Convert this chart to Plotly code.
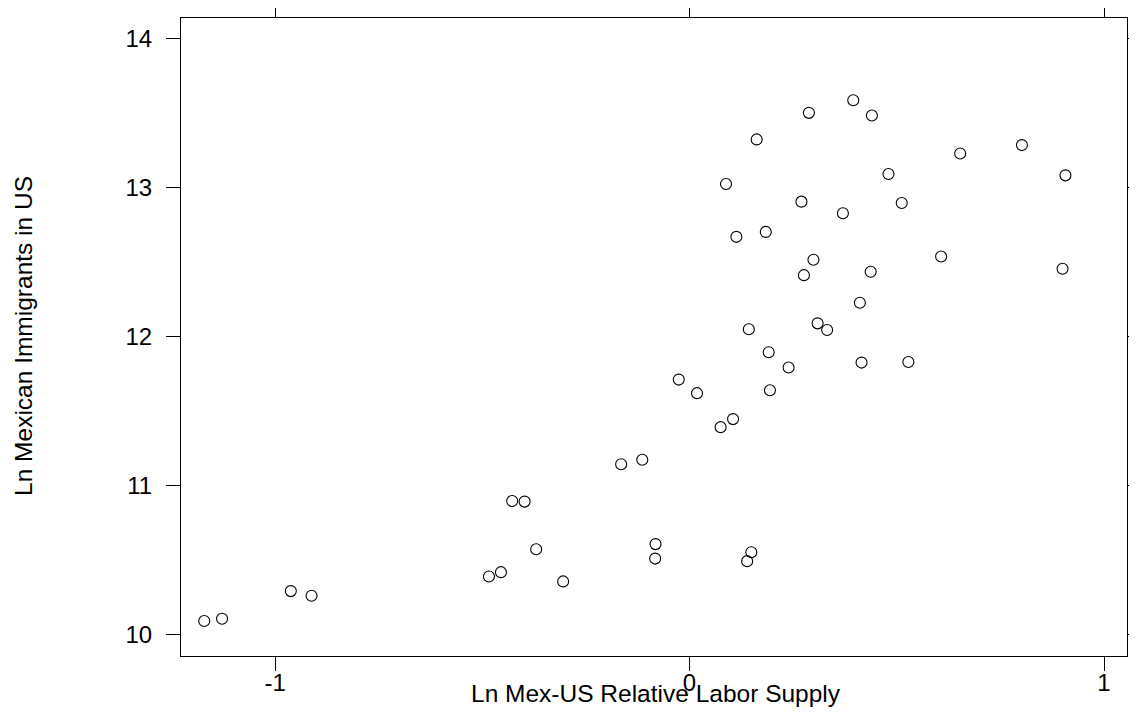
import plotly.graph_objects as go

# Ln Mex-US Relative Labor Supply
labor_supply = [
    -1.171, -1.128, -0.962, -0.912, -0.484, -0.455, -0.305, -0.370,
    -0.428, -0.398, -0.165, -0.114, -0.082, -0.083, 0.149, 0.139,
    -0.026, 0.018, 0.075, 0.105, 0.143, 0.194, 0.191, 0.239,
    0.309, 0.332, 0.411, 0.415, 0.528, 0.276, 0.299, 0.437,
    0.607, 0.900, 0.113, 0.184, 0.270, 0.370, 0.512, 0.088,
    0.480, 0.653, 0.802, 0.907, 0.162, 0.288, 0.395, 0.440,
]
# Ln Mexican Immigrants in US
immigrants = [
    10.094, 10.109, 10.294, 10.263, 10.392, 10.421, 10.359, 10.575,
    10.898, 10.894, 11.144, 11.175, 10.609, 10.512, 10.555, 10.495,
    11.712, 11.621, 11.393, 11.447, 12.049, 11.641, 11.895, 11.793,
    12.089, 12.044, 12.227, 11.826, 11.830, 12.412, 12.515, 12.435,
    12.537, 12.455, 12.669, 12.702, 12.905, 12.827, 12.896, 13.023,
    13.090, 13.228, 13.284, 13.081, 13.322, 13.500, 13.585, 13.482,
]

x_ticks = [-1, 0, 1]
x_tick_labels = ["-1", "0", "1"]
y_ticks = [10, 11, 12, 13, 14]
y_tick_labels = ["10", "11", "12", "13", "14"]

FONT = "Liberation Sans, Arial, Helvetica, sans-serif"

fig = go.Figure()
fig.add_trace(go.Scatter(
    x=labor_supply, y=immigrants, mode="markers",
    marker=dict(symbol="circle-open", size=11, color="black",
                line=dict(width=1.1, color="black")),
    showlegend=False, hoverinfo="skip",
))

axis_common = dict(
    showgrid=False, zeroline=False, showline=True, linecolor="black",
    linewidth=1, mirror="ticks", ticks="outside", ticklen=14,
    tickwidth=1, tickcolor="black", automargin=False,
    tickfont=dict(family=FONT, size=24, color="black"),
)

fig.update_xaxes(range=[-1.227, 1.0555], tickvals=x_ticks,
                 ticktext=x_tick_labels, ticklabelstandoff=-9,
                 **axis_common)
fig.update_yaxes(range=[9.859, 14.136], tickvals=y_ticks,
                 ticktext=y_tick_labels, ticklabelstandoff=9,
                 **axis_common)

fig.add_annotation(text="Ln Mex-US Relative Labor Supply", xref="paper",
                   yref="paper", x=0.5016, y=-0.058, xanchor="center",
                   yanchor="middle", showarrow=False,
                   font=dict(family=FONT, size=24.5, color="black"))
fig.add_annotation(text="Ln Mexican Immigrants in US", xref="paper",
                   yref="paper", x=-0.166, y=0.5016, xanchor="center",
                   yanchor="middle", textangle=-90, showarrow=False,
                   font=dict(family=FONT, size=24.5, color="black"))

fig.update_layout(
    width=1129, height=718,
    margin=dict(l=173, r=10, t=10, b=70, autoexpand=False),
    paper_bgcolor="white", plot_bgcolor="white",
    font=dict(family=FONT, color="black"),
)

fig.write_html("out.html")
